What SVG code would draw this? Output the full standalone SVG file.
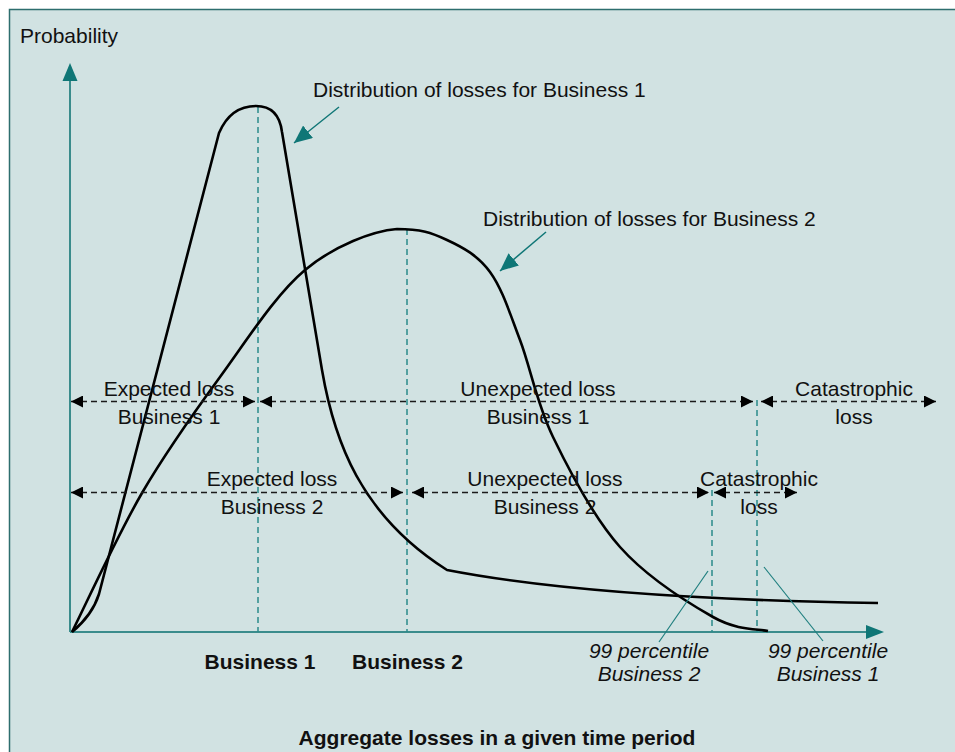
<svg xmlns="http://www.w3.org/2000/svg" width="955" height="752" viewBox="0 0 955 752">
<style>
text{font-family:"Liberation Sans",Arial,sans-serif;font-size:21px;fill:#111}
.c{text-anchor:middle}
.b{font-weight:bold}
.i{font-style:italic}
.curve{fill:none;stroke:#000;stroke-width:2.6;stroke-linejoin:round}
.vd{stroke:#2a8a8a;stroke-width:1.5;stroke-dasharray:6 4;fill:none}
.hd{stroke:#1a1a1a;stroke-width:1.5;stroke-dasharray:6 4;fill:none}
.axis{stroke:#3a8c8c;stroke-width:2;fill:none}
.lead{stroke:#1f7f7f;stroke-width:1.2;fill:none}
.tealfill{fill:#0f7676}
</style>
<defs>
<marker id="ah" viewBox="0 0 12 12" refX="12" refY="6" markerWidth="12" markerHeight="12" orient="auto-start-reverse" markerUnits="userSpaceOnUse">
<path d="M0,0 L12,6 L0,12 z" fill="#000"/>
</marker>
<marker id="tah" viewBox="0 0 18 16" refX="18" refY="8" markerWidth="18" markerHeight="16" orient="auto" markerUnits="userSpaceOnUse">
<path d="M0,0 L18,8 L0,16 z" fill="#0f7676"/>
</marker>
</defs>
<rect x="9.5" y="9.5" width="955" height="755" fill="#d1e2e2" stroke="#2d6e6e" stroke-width="1.5"/>

<g id="axes">
<line class="axis" x1="70" y1="632" x2="70" y2="78"/>
<polygon class="tealfill" points="70,63 62.5,81 77.5,81"/>
<line class="axis" x1="70" y1="632" x2="868" y2="632"/>
<polygon class="tealfill" points="884,632 866,625 866,639"/>
<text x="20" y="43">Probability</text>
<text class="c b" x="497" y="745">Aggregate losses in a given time period</text>
</g>

<g id="guides">
<line class="vd" x1="258" y1="107" x2="258" y2="632"/>
<line class="vd" x1="407" y1="229" x2="407" y2="632"/>
<line class="vd" x1="712" y1="490" x2="712" y2="632"/>
<line class="vd" x1="757" y1="400" x2="757" y2="632"/>
</g>

<g id="business1-curve">
<path class="curve" d="M72,632 C84,622 94,610 99,594 L219,133 C228,112 242,106 256,106 C272,106 280,116 282,132 L322,370 C334,440 360,515 447,570 C540,588 680,600 878,603"/>
</g>

<g id="business2-curve">
<path class="curve" d="M72,632 C83.7,608.8 117.3,535.5 142,493 C166.7,450.5 192.8,414.2 220,377 C247.2,339.8 275.5,294.7 305,270 C334.5,245.3 373,231 397,229 C421,229 431.5,232.8 447,240 C462.5,247.2 477.8,255.3 490,272 C502.2,288.7 509.5,312.5 520,340 C530.5,367.5 536.3,402.5 553,437 C569.7,471.5 593.3,517 620,547 C646.7,577 688.3,603 713,617 C737.7,631 758.8,628.7 768,631"/>
</g>

<g id="connectors">
<line x1="339" y1="107" x2="294" y2="143" stroke="#0f7676" stroke-width="1.5" marker-end="url(#tah)"/>
<line x1="546" y1="232" x2="500" y2="271" stroke="#0f7676" stroke-width="1.5" marker-end="url(#tah)"/>
<line class="hd" x1="71" y1="401.5" x2="255" y2="401.5" marker-start="url(#ah)" marker-end="url(#ah)"/>
<line class="hd" x1="260" y1="401.5" x2="753" y2="401.5" marker-start="url(#ah)" marker-end="url(#ah)"/>
<line class="hd" x1="761" y1="401.5" x2="936" y2="401.5" marker-start="url(#ah)" marker-end="url(#ah)"/>
<line class="hd" x1="71" y1="492.5" x2="403" y2="492.5" marker-start="url(#ah)" marker-end="url(#ah)"/>
<line class="hd" x1="412" y1="492.5" x2="709" y2="492.5" marker-start="url(#ah)" marker-end="url(#ah)"/>
<line class="hd" x1="714" y1="492.5" x2="797" y2="492.5" marker-start="url(#ah)" marker-end="url(#ah)"/>
<line class="lead" x1="708" y1="571" x2="659" y2="642"/>
<line class="lead" x1="764" y1="567" x2="823" y2="641"/>
</g>

<g id="label-dist1"><text x="313" y="97">Distribution of losses for Business 1</text></g>
<g id="label-dist2"><text x="483" y="226">Distribution of losses for Business 2</text></g>

<g id="label-el1"><text class="c" x="169" y="396">Expected loss</text><text class="c" x="169" y="424">Business 1</text></g>
<g id="label-ul1"><text class="c" x="538" y="396">Unexpected loss</text><text class="c" x="538" y="424">Business 1</text></g>
<g id="label-cl1"><text class="c" x="854" y="396">Catastrophic</text><text class="c" x="854" y="424">loss</text></g>

<g id="label-el2"><text class="c" x="272" y="486">Expected loss</text><text class="c" x="272" y="514">Business 2</text></g>
<g id="label-ul2"><text class="c" x="545" y="486">Unexpected loss</text><text class="c" x="545" y="514">Business 2</text></g>
<g id="label-cl2"><text class="c" x="759" y="486">Catastrophic</text><text class="c" x="759" y="514">loss</text></g>

<g id="label-x1"><text class="c b" x="260" y="669">Business 1</text></g>
<g id="label-x2"><text class="c b" x="407.5" y="669">Business 2</text></g>

<g id="label-p2"><text class="c i" x="649" y="658">99 percentile</text><text class="c i" x="649" y="681">Business 2</text></g>
<g id="label-p1"><text class="c i" x="828" y="658">99 percentile</text><text class="c i" x="828" y="681">Business 1</text></g>
</svg>
